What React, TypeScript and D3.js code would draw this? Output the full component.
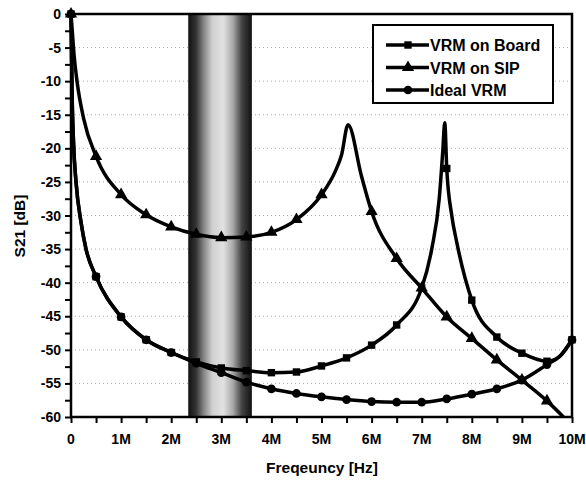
import React, { useEffect, useRef } from 'react';
import * as d3 from 'd3';

// frequency in MHz, S21 in dB
const freqBoard = [0, 0.01, 0.02, 0.05, 0.1, 0.2, 0.3, 0.5, 1, 1.5, 2, 2.5, 3, 3.5, 4, 4.5, 5, 5.5, 6, 6.5, 7, 7.2, 7.35, 7.42, 7.46, 7.5, 7.6, 7.7, 8, 8.5, 9, 9.5, 9.75, 10];
const s21Board = [0, -5, -11, -19, -25, -31, -35, -39.1, -45.1, -48.5, -50.4, -51.8, -52.7, -53.1, -53.4, -53.3, -52.4, -51.2, -49.3, -46.3, -40.8, -35, -27.5, -20.5, -16.2, -23, -30, -34, -42.6, -48.1, -50.5, -51.7, -51, -48.5];

const freqSip = [0, 0.03, 0.06, 0.12, 0.25, 0.5, 1, 1.5, 2, 2.5, 3, 3.5, 4, 4.5, 5, 5.27, 5.4, 5.53, 5.8, 6, 6.5, 7, 7.5, 8, 8.5, 9, 9.5, 9.83];
const s21Sip = [0, -3, -6, -10, -15.5, -21.2, -26.9, -29.9, -31.7, -32.8, -33.3, -33.2, -32.5, -30.6, -26.9, -23.5, -21, -16.5, -24.2, -29.4, -36.4, -40.8, -45.1, -48.3, -51.5, -54.5, -57.6, -60];

const freqIdeal = [0, 0.01, 0.02, 0.05, 0.1, 0.2, 0.3, 0.5, 1, 1.5, 2, 2.5, 3, 3.5, 4, 4.5, 5, 5.5, 6, 6.5, 7, 7.5, 8, 8.5, 9, 9.5, 9.75, 10];
const s21Ideal = [0, -5, -11, -19, -25, -31, -35, -39.1, -45.1, -48.5, -50.4, -52, -53.4, -54.8, -55.8, -56.5, -57, -57.4, -57.7, -57.8, -57.8, -57.3, -56.6, -55.8, -54.5, -52.2, -51, -48.5];

const seriesNames = ['VRM on Board', 'VRM on SIP', 'Ideal VRM'];
const xTicks = [0, 1, 2, 3, 4, 5, 6, 7, 8, 9, 10];
const xTickLabels = ['0', '1M', '2M', '3M', '4M', '5M', '6M', '7M', '8M', '9M', '10M'];
const yTicks = [0, -5, -10, -15, -20, -25, -30, -35, -40, -45, -50, -55, -60];
const band = [2.34, 3.61];

const App = () => {
  const ref = useRef<SVGSVGElement>(null);

  useEffect(() => {
    drawChart();
  }, []);

  const drawChart = () => {
    const svg = d3.select(ref.current);
    svg.selectAll('*').remove();

    const font = 'Liberation Sans, Arial, sans-serif';
    const left = 71, right = 572, top = 14, bottom = 417;

    const x = d3.scaleLinear().domain([0, 10]).range([left, right]);
    const y = d3.scaleLinear().domain([-60, 0]).range([bottom, top]);

    svg.append('rect').attr('width', 586).attr('height', 481).attr('fill', '#fff');

    // dotted horizontal grid
    svg.append('g')
      .selectAll('line')
      .data(yTicks.filter(d => d !== 0 && d !== -60))
      .enter().append('line')
      .attr('x1', left).attr('x2', right)
      .attr('y1', d => y(d)).attr('y2', d => y(d))
      .attr('stroke', '#aaa')
      .attr('stroke-width', 1)
      .attr('stroke-dasharray', '1,3');

    // shaded band
    const defs = svg.append('defs');
    const grad = defs.append('linearGradient').attr('id', 'bandGrad')
      .attr('x1', '0%').attr('x2', '100%').attr('y1', '0%').attr('y2', '0%');
    [[0, '#111'], [0.12, '#333'], [0.25, '#888'], [0.38, '#d0d0d0'], [0.55, '#e2e2e2'], [0.7, '#aaa'], [0.84, '#444'], [1, '#111']]
      .forEach(([o, c]) => grad.append('stop').attr('offset', o as number).attr('stop-color', c as string));
    svg.append('rect')
      .attr('x', x(band[0])).attr('y', top)
      .attr('width', x(band[1]) - x(band[0]))
      .attr('height', bottom - top)
      .attr('fill', 'url(#bandGrad)');

    const series = [
      { name: seriesNames[0], f: freqBoard, v: s21Board, sym: d3.symbolSquare, size: 55 },
      { name: seriesNames[1], f: freqSip, v: s21Sip, sym: d3.symbolTriangle, size: 65 },
      { name: seriesNames[2], f: freqIdeal, v: s21Ideal, sym: d3.symbolCircle, size: 60 },
    ];

    const line = d3.line<[number, number]>()
      .x(d => x(d[0]))
      .y(d => y(d[1]))
      .curve(d3.curveMonotoneX);

    series.forEach(s => {
      const pts = s.f.map((f, i) => [f, s.v[i]] as [number, number]);
      svg.append('path')
        .attr('d', line(pts))
        .attr('fill', 'none')
        .attr('stroke', '#000')
        .attr('stroke-width', 3.5);
      const marks = pts.filter(p => Math.abs(p[0] * 2 - Math.round(p[0] * 2)) < 1e-6);
      svg.append('g')
        .selectAll('path')
        .data(marks)
        .enter().append('path')
        .attr('d', d3.symbol().type(s.sym).size(s.size)())
        .attr('transform', d => `translate(${x(d[0])},${y(d[1])})`)
        .attr('fill', '#000');
    });

    // frame
    svg.append('rect')
      .attr('x', left).attr('y', top)
      .attr('width', right - left).attr('height', bottom - top)
      .attr('fill', 'none').attr('stroke', '#000').attr('stroke-width', 2.5);

    // x axis
    const xAxis = svg.append('g').attr('transform', `translate(0,${bottom})`)
      .call(d3.axisBottom(x).tickValues(d3.range(0, 10.01, 0.5)).tickSize(6).tickFormat(() => ''));
    xAxis.select('.domain').remove();
    xAxis.selectAll('line').attr('stroke-width', 2);
    svg.append('g')
      .selectAll('text')
      .data(xTicks)
      .enter().append('text')
      .attr('x', d => x(d))
      .attr('y', 444)
      .attr('text-anchor', 'middle')
      .attr('font-family', font)
      .attr('font-weight', 'bold')
      .attr('font-size', 14)
      .text((d, i) => xTickLabels[i]);

    // y axis
    const yAxis = svg.append('g').attr('transform', `translate(${left},0)`)
      .call(d3.axisLeft(y).tickValues(d3.range(-60, 0.01, 2.5)).tickSize(6).tickFormat(() => ''));
    yAxis.select('.domain').remove();
    yAxis.selectAll('line').attr('stroke-width', 2);
    svg.append('g')
      .selectAll('text')
      .data(yTicks)
      .enter().append('text')
      .attr('x', 61)
      .attr('y', d => y(d) + 5)
      .attr('text-anchor', 'end')
      .attr('font-family', font)
      .attr('font-weight', 'bold')
      .attr('font-size', 14)
      .text(d => String(d));

    // axis titles
    svg.append('text')
      .attr('x', 322).attr('y', 473)
      .attr('text-anchor', 'middle')
      .attr('font-family', font).attr('font-weight', 'bold').attr('font-size', 15.5)
      .text('Freqeuncy [Hz]');
    svg.append('text')
      .attr('transform', 'translate(25,226) rotate(-90)')
      .attr('text-anchor', 'middle')
      .attr('font-family', font).attr('font-weight', 'bold').attr('font-size', 15.5)
      .text('S21 [dB]');

    // legend
    const lg = svg.append('g');
    lg.append('rect')
      .attr('x', 373).attr('y', 25).attr('width', 180).attr('height', 78)
      .attr('fill', '#fff').attr('stroke', '#000').attr('stroke-width', 2);
    series.forEach((s, i) => {
      const ly = 45 + i * 22.5;
      lg.append('line')
        .attr('x1', 386).attr('x2', 429).attr('y1', ly).attr('y2', ly)
        .attr('stroke', '#000').attr('stroke-width', 3.5);
      lg.append('path')
        .attr('d', d3.symbol().type(s.sym).size(s.size)())
        .attr('transform', `translate(408,${ly})`)
        .attr('fill', '#000');
      lg.append('text')
        .attr('x', 430).attr('y', ly + 6)
        .attr('font-family', font).attr('font-weight', 'bold').attr('font-size', 16)
        .text(s.name);
    });
  };

  return (
    <svg ref={ref} width={586} height={481}
      style={{ position: 'absolute', left: 0, top: 0, display: 'block' }} />
  );
};

export default App;
